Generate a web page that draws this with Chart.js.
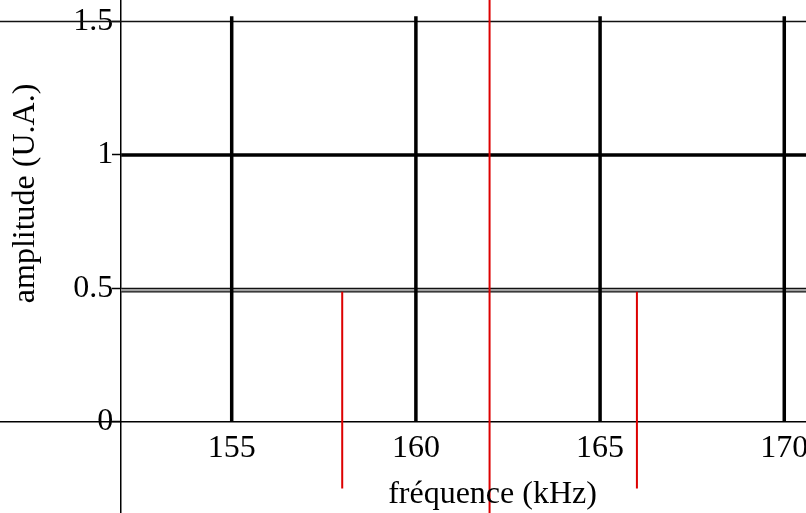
<!DOCTYPE html>
<html>
<head>
<meta charset="utf-8">
<script src="https://cdn.jsdelivr.net/npm/chart.js@4/dist/chart.umd.min.js"></script>
<style>
  html, body { margin: 0; padding: 0; background: #fff; }
  #wrap { width: 806px; height: 513px; }
</style>
</head>
<body>
<div id="wrap"><canvas id="spectre" width="806" height="513"></canvas></div>
<script>
// axes ranges (kHz / U.A.)
const xRange = [148.71, 170.59];
const yRange = [-0.342, 1.581];
const axisFreq = 152;

// tick labels
const xTicks = [155, 160, 165, 170];
const yTicks = [0, 0.5, 1, 1.5];

// vertical black grid lines
const gridFreqs = [155, 160, 165, 170];
const gridTop = 1.52;

// horizontal levels
const unitLevel = 1;
const halfLevels = [0.5, 0.487];
const topLevel = 1.5;

// spectrum lines (red)
const sideFreqs = [158, 166];
const sideAmp = 0.487;
const sideBottom = -0.25;
const carrierFreq = 162;
const carrierAmp = 1.8;
const carrierBottom = -0.4;

const xTitle = 'fréquence (kHz)';
const yTitle = 'amplitude (U.A.)';

const FONT = 'Liberation Serif';

// turn a list of x values into separate vertical segments
function verticals(xs, y0, y1) {
  const pts = [];
  xs.forEach(x => {
    pts.push({x: x, y: y0}, {x: x, y: y1}, {x: x, y: null});
  });
  return pts;
}

function hline(y, x0, x1) {
  return [{x: x0, y: y}, {x: x1, y: y}];
}

const base = {showLine: true, pointRadius: 0, spanGaps: false, fill: false, borderCapStyle: 'butt'};

const axisTitles = {
  id: 'axisTitles',
  afterDraw(chart) {
    const {ctx, scales: {x, y}} = chart;
    ctx.save();
    ctx.font = '32px "' + FONT + '"';
    ctx.fillStyle = '#000';
    ctx.textAlign = 'center';
    ctx.textBaseline = 'alphabetic';
    ctx.fillText(xTitle, x.getPixelForValue(162.08), y.getPixelForValue(-0.305));
    ctx.translate(x.getPixelForValue(149.63), y.getPixelForValue(0.856));
    ctx.rotate(-Math.PI / 2);
    ctx.fillText(yTitle, 0, 0);
    ctx.restore();
  }
};

function noPad(s) {
  s.paddingLeft = 0; s.paddingRight = 0; s.paddingTop = 0; s.paddingBottom = 0;
}

new Chart(document.getElementById('spectre'), {
  type: 'scatter',
  data: {
    datasets: [
      Object.assign({}, base, {
        data: verticals([carrierFreq], carrierBottom, carrierAmp),
        borderColor: '#dd0000', borderWidth: 2
      }),
      Object.assign({}, base, {
        data: verticals(sideFreqs, sideBottom, sideAmp),
        borderColor: '#dd0000', borderWidth: 2
      }),
      Object.assign({}, base, {
        data: verticals(gridFreqs, 0, gridTop),
        borderColor: '#000', borderWidth: 3.5
      }),
      Object.assign({}, base, {
        data: hline(unitLevel, axisFreq, xRange[1]),
        borderColor: '#000', borderWidth: 3.5
      }),
      Object.assign({}, base, {
        data: hline(halfLevels[0], axisFreq, xRange[1]),
        borderColor: '#111', borderWidth: 1.4
      }),
      Object.assign({}, base, {
        data: hline(halfLevels[1], axisFreq, xRange[1]),
        borderColor: '#111', borderWidth: 1.4,
        fill: '-1', backgroundColor: '#a0a0a0'
      }),
      Object.assign({}, base, {
        data: hline(topLevel, xRange[0], xRange[1]),
        borderColor: '#111', borderWidth: 1.5
      })
    ]
  },
  options: {
    responsive: false,
    animation: false,
    devicePixelRatio: 1,
    layout: {padding: 0, autoPadding: false},
    plugins: {legend: {display: false}, tooltip: {enabled: false}},
    scales: {
      x: {
        type: 'linear',
        min: xRange[0],
        max: xRange[1],
        position: {y: 0},
        afterBuildTicks: s => { s.ticks = xTicks.map(v => ({value: v})); },
        afterFit: noPad,
        grid: {drawOnChartArea: false, drawTicks: false},
        border: {color: '#000', width: 1.5},
        ticks: {color: '#000', font: {family: FONT, size: 32}, padding: 8, maxRotation: 0, autoSkip: false}
      },
      y: {
        type: 'linear',
        min: yRange[0],
        max: yRange[1],
        position: {x: axisFreq},
        afterBuildTicks: s => { s.ticks = yTicks.map(v => ({value: v})); },
        afterFit: noPad,
        grid: {drawOnChartArea: false, drawTicks: true, tickLength: 8, tickColor: '#000', tickWidth: 1.5},
        border: {color: '#000', width: 1.5},
        // trailing space keeps the label clear of the tick mark
        ticks: {color: '#000', font: {family: FONT, size: 32}, padding: 0, autoSkip: false,
                callback: v => v + ' '}
      }
    }
  },
  plugins: [axisTitles]
});
</script>
</body>
</html>
